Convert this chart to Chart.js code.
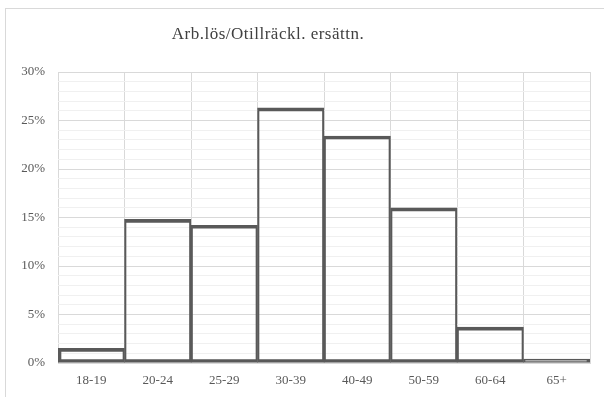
<!DOCTYPE html>
<html>
<head>
<meta charset="utf-8">
<script src="https://cdn.jsdelivr.net/npm/chart.js@4/dist/chart.umd.min.js"></script>
<style>
  html, body { margin: 0; padding: 0; background: #fff; overflow: hidden; }
  #frame { position: absolute; left: 5px; top: 8px; width: 700px; height: 500px; border: 1px solid #d9d9d9; }
  #wrap { position: absolute; left: 0; top: 0; width: 604px; height: 397px; }
</style>
</head>
<body>
<div id="frame"></div>
<div id="wrap"><canvas id="c"></canvas></div>
<script>
// Age groups and their share (percent)
const categories = ['18-19', '20-24', '25-29', '30-39', '40-49', '50-59', '60-64', '65+'];
const shares = [1.5, 14.8, 14.2, 26.3, 23.4, 16.0, 3.7, 0.4];
// Labelled y ticks (percent); the minor grid runs every 1 %
const labelledTicks = [0, 5, 10, 15, 20, 25, 30];
const chartTitle = 'Arb.lös/Otillräckl. ersättn.';

const serif = '"Liberation Serif", "Times New Roman", serif';
const lastIndex = categories.length - 1;

// Title centred over the framed chart box rather than the canvas
const framedTitle = {
  id: 'framedTitle',
  afterDraw(chart) {
    const ctx = chart.ctx;
    ctx.save();
    ctx.font = '17px ' + serif;
    if ('letterSpacing' in ctx) ctx.letterSpacing = '0.5px';
    ctx.fillStyle = '#404040';
    ctx.textAlign = 'center';
    ctx.textBaseline = 'alphabetic';
    ctx.fillText(chartTitle, 268, 38.5);
    ctx.restore();
  }
};

new Chart(document.getElementById('c'), {
  type: 'bar',
  data: {
    labels: categories,
    datasets: [{
      data: shares,
      backgroundColor: 'rgba(255,255,255,0)',
      borderColor: '#595959',
      borderSkipped: false,
      // Neighbouring bars share a 3px edge: half of it from each side
      borderWidth: (ctx) => ({
        top: 3,
        bottom: 3,
        left: ctx.dataIndex === 0 ? 3 : 1.5,
        right: ctx.dataIndex === lastIndex ? 3 : 1.5
      }),
      barPercentage: 1,
      categoryPercentage: 1
    }]
  },
  plugins: [framedTitle],
  options: {
    responsive: true,
    maintainAspectRatio: false,
    animation: false,
    layout: { padding: { left: 0, right: 14, top: 72, bottom: 0 } },
    plugins: {
      legend: { display: false },
      tooltip: { enabled: false },
      title: { display: false }
    },
    scales: {
      x: {
        afterFit: (scale) => { scale.height = 34; },
        grid: { color: '#d9d9d9', drawTicks: false, offset: true },
        border: { display: true, color: '#d9d9d9' },
        ticks: { padding: 10, color: '#595959', maxRotation: 0, font: { family: serif, size: 13 } }
      },
      y: {
        min: 0,
        max: 30,
        afterFit: (scale) => { scale.width = 58; },
        ticks: {
          stepSize: 1,
          autoSkip: false,
          padding: 13,
          color: '#595959',
          font: { family: serif, size: 13 },
          callback: (v) => labelledTicks.includes(v) ? v + '%' : ''
        },
        grid: {
          drawTicks: false,
          color: (ctx) => (ctx.tick && labelledTicks.includes(ctx.tick.value)) ? '#d9d9d9' : '#f0f0f0'
        },
        border: { display: false }
      }
    }
  }
});
</script>
</body>
</html>
